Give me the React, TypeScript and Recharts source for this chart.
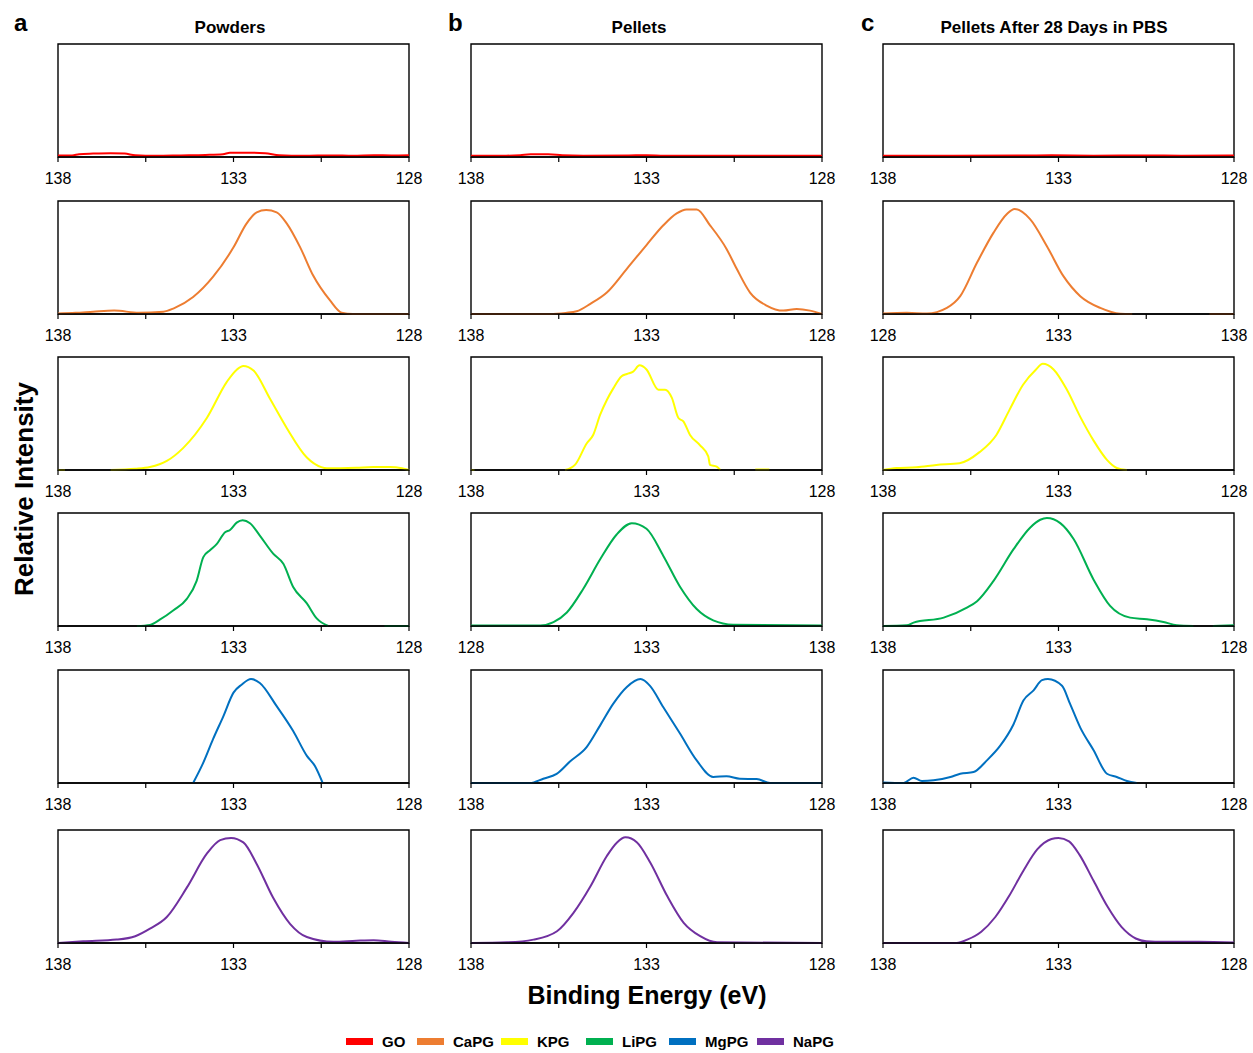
import React from 'react';
import { LineChart, Line, XAxis, YAxis, ReferenceArea } from 'recharts';

type Pt = [number, number | null];

const SERIES_NAMES = ['GO', 'CaPG', 'KPG', 'LiPG', 'MgPG', 'NaPG'];
const SERIES_COLORS = ['#FF0000', '#ED7D31', '#FFFF00', '#00B050', '#0070C0', '#7030A0'];
const COLUMN_TITLES = ['Powders', 'Pellets', 'Pellets After 28 Days in PBS'];
const COLUMN_LETTERS = ['a', 'b', 'c'];
const X_TICKS = [128, 130.5, 133, 135.5, 138];
const LABELED_TICKS = [128, 133, 138];
const Y_LABEL = 'Relative Intensity';
const X_LABEL = 'Binding Energy (eV)';

// ---------- Powders ----------
const POWDER_GO: Pt[] = [[138,0.014],[137.6,0.014],[137.4,0.024],[137,0.03],[136.5,0.034],[136.1,0.03],[135.8,0.015],[135.2,0.01],[134.5,0.014],[133.8,0.018],[133.3,0.024],[133.1,0.038],[132.6,0.038],[132.1,0.034],[131.7,0.016],[131,0.011],[130.2,0.014],[129.6,0.011],[129,0.016],[128.5,0.014],[128,0.016]];
const POWDER_CAPG: Pt[] = [[138,0.005],[137.5,0.01],[137,0.02],[136.4,0.03],[135.7,0.012],[135.0,0.02],[134.7,0.05],[134.15,0.15],[133.58,0.33],[133.0,0.59],[132.63,0.8],[132.34,0.9],[132.07,0.92],[131.77,0.9],[131.48,0.8],[131.1,0.59],[130.73,0.34],[130.25,0.12],[129.92,0.012],[129.6,0],[128,0]];
const POWDER_KPG: Pt[] = [[138,0],[137.8,0],[137.7,null],[136.5,0],[135.8,0.01],[135.38,0.026],[134.9,0.08],[134.43,0.196],[133.76,0.46],[133.19,0.78],[132.9,0.89],[132.72,0.92],[132.43,0.88],[131.96,0.63],[131.48,0.37],[130.91,0.11],[130.5,0.025],[130.34,0.015],[129.5,0.02],[129.01,0.026],[128.54,0.026],[128.2,0.015],[128,0]];
const POWDER_LIPG: Pt[] = [[135.75,0],[135.38,0.01],[135.09,0.058],[134.71,0.14],[134.33,0.24],[134.05,0.4],[133.86,0.61],[133.67,0.67],[133.48,0.725],[133.24,0.83],[133.1,0.85],[132.91,0.915],[132.74,0.936],[132.53,0.91],[132.25,0.8],[131.87,0.64],[131.58,0.55],[131.3,0.345],[130.91,0.2],[130.63,0.067],[130.3,0],[130.2,null],[128.7,0],[128,0]];
const POWDER_MGPG: Pt[] = [[134.15,0],[133.86,0.18],[133.58,0.39],[133.29,0.59],[133.0,0.8],[132.77,0.87],[132.5,0.92],[132.25,0.885],[131.77,0.68],[131.3,0.46],[130.91,0.24],[130.68,0.15],[130.46,0]];
const POWDER_NAPG: Pt[] = [[138,0],[137.28,0.015],[136.33,0.03],[135.8,0.06],[135.38,0.127],[134.9,0.23],[134.33,0.49],[133.76,0.79],[133.38,0.91],[133.07,0.93],[132.72,0.89],[132.34,0.7],[131.87,0.4],[131.39,0.17],[130.91,0.053],[130.15,0.01],[129.5,0.02],[129.01,0.025],[128.5,0.01],[128,0]];

// ---------- Pellets ----------
const PELLET_GO: Pt[] = [[138,0.012],[137,0.012],[136.6,0.016],[136.3,0.024],[135.8,0.024],[135.4,0.016],[134.8,0.012],[133.5,0.014],[133,0.016],[132.5,0.012],[131,0.01],[130,0.011],[129,0.01],[128,0.012]];
const PELLET_CAPG: Pt[] = [[138,0],[135.75,0],[135.3,0.01],[134.99,0.024],[134.6,0.09],[134.13,0.19],[133.56,0.4],[133.0,0.61],[132.52,0.785],[132.14,0.89],[131.86,0.925],[131.57,0.925],[131.19,0.785],[130.72,0.576],[130.43,0.4],[130.05,0.19],[129.58,0.075],[129.1,0.03],[128.72,0.045],[128.34,0.03],[128,0]];
const PELLET_KPG: Pt[] = [[138,0],[137.9,0],[137.8,null],[135.32,0],[135.04,0.045],[134.7,0.237],[134.52,0.31],[134.32,0.49],[134.13,0.62],[133.95,0.72],[133.71,0.83],[133.56,0.85],[133.38,0.87],[133.2,0.926],[133.0,0.89],[132.66,0.71],[132.47,0.71],[132.28,0.64],[132.09,0.46],[131.95,0.43],[131.76,0.31],[131.48,0.22],[131.24,0.12],[131.19,0.045],[131.0,0.03],[130.9,0],[130.8,null],[129.9,0.004],[129.5,0.004],[129.4,null]];
const PELLET_LIPG: Pt[] = [[128,0.005],[129.97,0.005],[130.35,0.035],[130.73,0.12],[131.2,0.33],[131.68,0.59],[132.15,0.81],[132.58,0.91],[133.0,0.86],[133.48,0.62],[133.95,0.35],[134.43,0.15],[134.9,0.05],[135.47,0.012],[138,0.005]];
const PELLET_MGPG: Pt[] = [[138,0],[136.32,0],[135.94,0.038],[135.56,0.08],[135.18,0.19],[134.7,0.32],[134.32,0.51],[133.95,0.7],[133.56,0.85],[133.17,0.92],[132.9,0.86],[132.52,0.67],[132.05,0.44],[131.57,0.2],[131.1,0.053],[130.72,0.06],[130.34,0.038],[129.86,0.035],[129.48,0],[128,0]];
const PELLET_NAPG: Pt[] = [[138,0],[136.97,0.006],[136.22,0.03],[135.55,0.104],[135.08,0.267],[134.6,0.5],[134.13,0.77],[133.84,0.89],[133.6,0.935],[133.27,0.89],[132.89,0.71],[132.41,0.415],[131.94,0.178],[131.47,0.06],[130.99,0.006],[128,0]];

// ---------- Pellets after 28 days in PBS ----------
const PBS_GO: Pt[] = [[138,0.012],[136,0.012],[134,0.013],[133.2,0.015],[132,0.012],[130.5,0.014],[129.5,0.012],[128,0.013]];
const PBS_CAPG: Pt[] = [[128,0.005],[128.68,0.01],[129.25,0.004],[129.82,0.054],[130.2,0.158],[130.68,0.455],[131.15,0.72],[131.53,0.885],[131.75,0.93],[132.19,0.84],[132.67,0.6],[133.14,0.335],[133.62,0.158],[134.19,0.054],[134.76,0.003],[135.1,0],[135.2,null],[137.3,0],[138,0]];
const PBS_KPG: Pt[] = [[138,0],[137.62,0.018],[137.05,0.024],[136.48,0.045],[135.82,0.06],[135.25,0.158],[134.77,0.31],[134.4,0.53],[134.01,0.755],[133.64,0.89],[133.45,0.94],[133.14,0.89],[132.76,0.71],[132.38,0.47],[132.0,0.26],[131.62,0.09],[131.34,0.018],[131.05,0]];
const PBS_LIPG: Pt[] = [[138,0],[137.32,0.006],[137.13,0.03],[136.27,0.074],[135.61,0.163],[135.32,0.22],[134.85,0.4],[134.28,0.68],[133.81,0.87],[133.52,0.94],[133.33,0.955],[132.95,0.91],[132.57,0.77],[132.0,0.41],[131.53,0.178],[130.96,0.074],[130.48,0.06],[130.01,0.036],[129.63,0.006],[129.16,0],[129.0,null],[128.6,0],[128,0.006]];
const PBS_MGPG: Pt[] = [[138,0.005],[137.41,0],[137.13,0.047],[136.89,0.018],[136.56,0.024],[136.08,0.053],[135.8,0.082],[135.42,0.097],[135.04,0.2],[134.66,0.33],[134.28,0.52],[134.0,0.73],[133.71,0.82],[133.47,0.91],[133.3,0.92],[132.9,0.86],[132.67,0.7],[132.38,0.49],[132.0,0.29],[131.62,0.082],[131.34,0.053],[131.05,0.018],[130.77,0]];
const PBS_NAPG: Pt[] = [[138,0],[135.9,0],[135.6,0.03],[135.2,0.1],[134.8,0.23],[134.4,0.42],[134.0,0.64],[133.6,0.83],[133.2,0.92],[133.0,0.93],[132.7,0.9],[132.4,0.78],[132.0,0.55],[131.6,0.32],[131.2,0.14],[130.8,0.04],[130.5,0.015],[130.0,0.01],[129.0,0.01],[128,0.005]];

const COLUMN_DATA: Pt[][][] = [
  [POWDER_GO, POWDER_CAPG, POWDER_KPG, POWDER_LIPG, POWDER_MGPG, POWDER_NAPG],
  [PELLET_GO, PELLET_CAPG, PELLET_KPG, PELLET_LIPG, PELLET_MGPG, PELLET_NAPG],
  [PBS_GO, PBS_CAPG, PBS_KPG, PBS_LIPG, PBS_MGPG, PBS_NAPG],
];
// panels whose axis is labelled 128 on the left and 138 on the right
const FLIPPED_AXIS: boolean[][] = [
  [false, false, false, false, false, false],
  [false, false, false, true, false, false],
  [false, true, false, false, false, false],
];

const FONT = 'Arial, "Liberation Sans", Helvetica, sans-serif';
const BOX_LEFT = [58, 471, 883];
const BOX_TOP = [44, 201, 357, 513, 670, 830];
const BOX_W = 351;
const BOX_H = 113;
const M_L = 22, M_R = 22, M_T = 6, XAXIS_H = 34;
const AXIS_STYLE = { stroke: '#000', strokeWidth: 1.4 };

function Panel({ data, color, flipped, left, top }: { data: Pt[]; color: string; flipped: boolean; left: number; top: number }) {
  const rows = data.map(([x, y]) => ({ x, y }));
  const fmt = (v: number) => (LABELED_TICKS.includes(v) ? String(v) : '');
  return (
    <div style={{ position: 'absolute', left: left - M_L, top: top - M_T }}>
      <LineChart width={BOX_W + M_L + M_R} height={BOX_H + M_T + XAXIS_H} data={rows} margin={{ top: M_T, right: M_R, bottom: 0, left: M_L }}>
        <YAxis yAxisId="l" type="number" domain={[0, 1]} hide />
        <XAxis
          xAxisId="b"
          dataKey="x"
          type="number"
          domain={[128, 138]}
          reversed={!flipped}
          ticks={X_TICKS}
          interval={0}
          tickFormatter={fmt}
          tickSize={5}
          tickMargin={11}
          height={XAXIS_H}
          axisLine={AXIS_STYLE}
          tickLine={{ stroke: '#000', strokeWidth: 1.2 }}
          tick={{ fill: '#000', fontSize: 16, fontFamily: FONT }}
        />
        <ReferenceArea xAxisId="b" yAxisId="l" x1={128} x2={138} y1={0} y2={1} fill="none" fillOpacity={0} stroke="#000" strokeWidth={1.4} ifOverflow="visible" />
        <Line xAxisId="b" yAxisId="l" dataKey="y" type="monotone" stroke={color} strokeWidth={2} dot={false} activeDot={false} connectNulls={false} isAnimationActive={false} />
      </LineChart>
    </div>
  );
}

const LEGEND_X = [346, 417, 501, 586, 669, 757];

export default function App() {
  return (
    <div style={{ position: 'absolute', left: 0, top: 0, width: 1253, height: 1053, background: '#fff', fontFamily: FONT }}>
      {COLUMN_DATA.map((col, ci) =>
        col.map((d, ri) => (
          <Panel key={`${ci}-${ri}`} data={d} color={SERIES_COLORS[ri]} flipped={FLIPPED_AXIS[ci][ri]} left={BOX_LEFT[ci]} top={BOX_TOP[ri]} />
        ))
      )}
      <svg width={1253} height={1053} style={{ position: 'absolute', left: 0, top: 0, pointerEvents: 'none' }}>
        {COLUMN_LETTERS.map((l, i) => (
          <text key={l} x={[14, 448, 861][i]} y={31} fontSize={24} fontWeight="bold" fontFamily={FONT} fill="#000">{l}</text>
        ))}
        {COLUMN_TITLES.map((t, i) => (
          <text key={t} x={[230, 639, 1054][i]} y={33} fontSize={17} fontWeight="bold" textAnchor="middle" fontFamily={FONT} fill="#000">{t}</text>
        ))}
        <text x={0} y={0} transform="translate(33,489) rotate(-90)" fontSize={26} fontWeight="bold" textAnchor="middle" fontFamily={FONT} fill="#000">{Y_LABEL}</text>
        <text x={647} y={1004} fontSize={25} fontWeight="bold" textAnchor="middle" fontFamily={FONT} fill="#000">{X_LABEL}</text>
        {SERIES_NAMES.map((n, i) => (
          <g key={n}>
            <rect x={LEGEND_X[i]} y={1038} width={27} height={7} fill={SERIES_COLORS[i]} />
            <text x={LEGEND_X[i] + 36} y={1047} fontSize={15} fontWeight="bold" fontFamily={FONT} fill="#000">{n}</text>
          </g>
        ))}
      </svg>
    </div>
  );
}
